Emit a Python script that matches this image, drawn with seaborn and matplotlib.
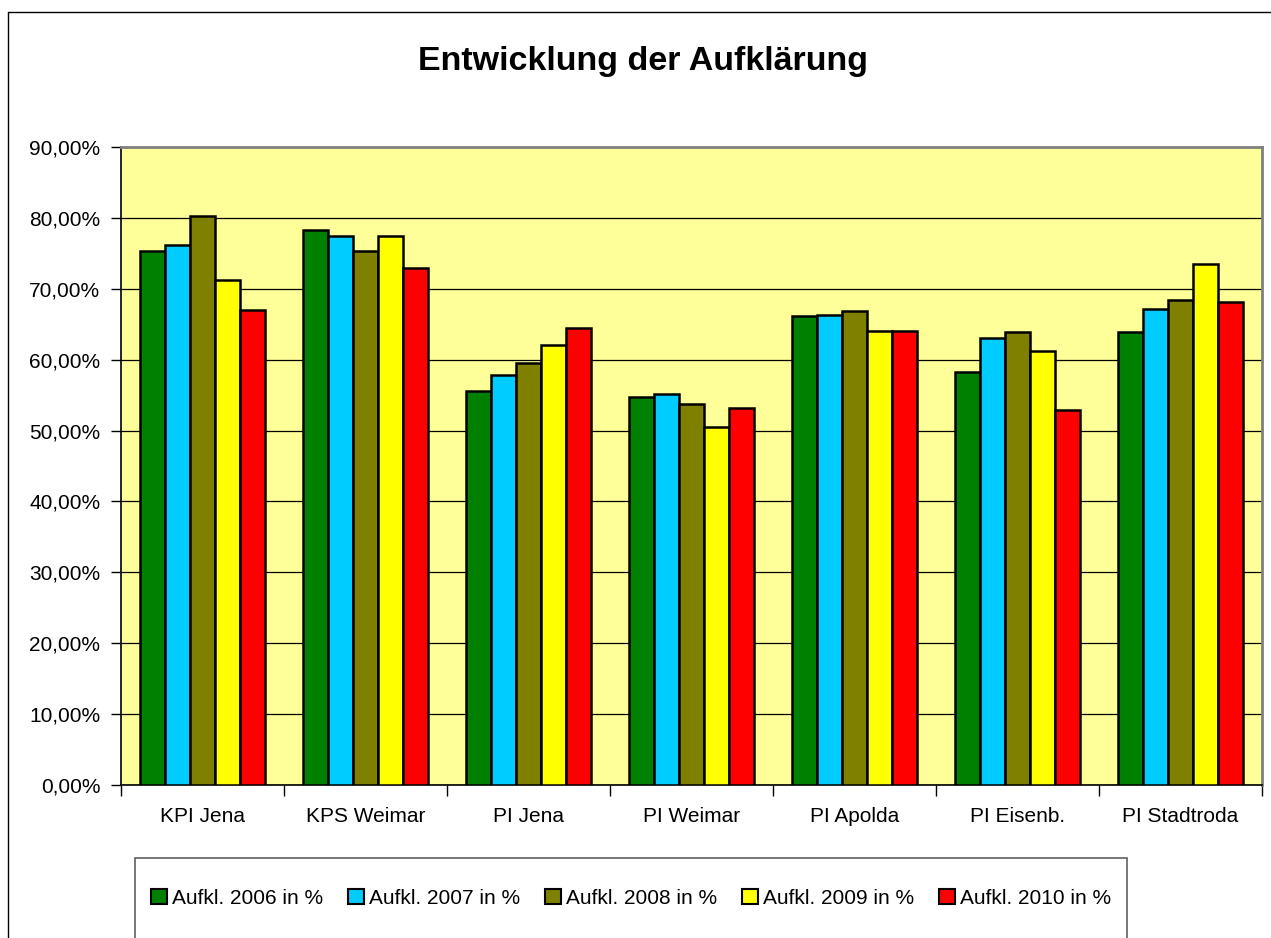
import matplotlib
matplotlib.use("Agg")
import matplotlib.pyplot as plt
import seaborn as sns
import pandas as pd
from matplotlib.patches import Rectangle, Patch
from matplotlib.lines import Line2D
from matplotlib.ticker import FuncFormatter, FixedLocator

categories = ["KPI Jena", "KPS Weimar", "PI Jena", "PI Weimar", "PI Apolda", "PI Eisenb.", "PI Stadtroda"]
series_names = ["Aufkl. 2006 in %", "Aufkl. 2007 in %", "Aufkl. 2008 in %", "Aufkl. 2009 in %", "Aufkl. 2010 in %"]
a2006 = [75.3, 78.3, 55.6, 54.8, 66.1, 58.2, 63.9]
a2007 = [76.2, 77.4, 57.9, 55.1, 66.3, 63.1, 67.1]
a2008 = [80.2, 75.3, 59.6, 53.7, 66.8, 63.9, 68.4]
a2009 = [71.3, 77.4, 62.0, 50.5, 64.1, 61.2, 73.5]
a2010 = [67.0, 73.0, 64.4, 53.2, 64.1, 52.9, 68.1]
colors = ["#008000", "#00CCFF", "#808000", "#FFFF00", "#FF0000"]
title = "Entwicklung der Aufklärung"

rows = []
for name, vals in zip(series_names, [a2006, a2007, a2008, a2009, a2010]):
    for c, v in zip(categories, vals):
        rows.append({"Dienststelle": c, "Serie": name, "Wert": v})
df = pd.DataFrame(rows)

sns.set_style("white")
plt.rcParams["font.family"] = ["Liberation Sans", "DejaVu Sans"]
plt.rcParams["text.color"] = "black"
plt.rcParams["xtick.color"] = "black"
plt.rcParams["ytick.color"] = "black"
plt.rcParams["axes.labelcolor"] = "black"

W, H = 1271, 938
fig = plt.figure(figsize=(W / 100, H / 100), dpi=100)
ax = fig.add_axes([121 / W, 1 - 785 / H, (1262 - 121) / W, (785 - 147) / H])
ax.set_facecolor("#FFFF99")

sns.barplot(data=df, x="Dienststelle", y="Wert", hue="Serie", order=categories,
            hue_order=series_names, palette=colors, width=0.767, dodge=True,
            edgecolor="black", linewidth=1.8, saturation=1, errorbar=None,
            legend=False, ax=ax, zorder=3)

ax.set_xlim(-0.5, len(categories) - 0.5)
ax.set_ylim(0, 90)
ax.set_yticks(range(0, 91, 10))
ax.yaxis.set_major_formatter(FuncFormatter(lambda v, p: f"{v:.2f}".replace(".", ",") + "%"))
ax.grid(axis="y", color="black", linewidth=0.9, zorder=1)
ax.set_axisbelow(True)
ax.set_xlabel("")
ax.set_ylabel("")

ax.tick_params(axis="y", which="major", direction="out", length=7, width=1, color="black",
               labelsize=15, pad=8, left=True, labelcolor="black")
ax.tick_params(axis="x", which="major", length=0, labelsize=15, pad=16, labelcolor="black")
ax.xaxis.set_minor_locator(FixedLocator([i - 0.5 for i in range(len(categories) + 1)]))
ax.tick_params(axis="x", which="minor", direction="out", length=8, width=1, color="black", bottom=True)

for s in ["left", "bottom"]:
    ax.spines[s].set_color("black")
    ax.spines[s].set_linewidth(1.2)
for s in ["top", "right"]:
    ax.spines[s].set_color("#808080")
    ax.spines[s].set_linewidth(2)

fig.text(643 / W, 1 - 70 / H, title, ha="center", va="baseline",
         fontsize=24.5, fontweight="bold", color="black")

# outer chart border (left and top visible)
fig.add_artist(Line2D([8 / W, 8 / W], [0, 1 - 12 / H], transform=fig.transFigure, color="black", linewidth=1))
fig.add_artist(Line2D([8 / W, 1], [1 - 12 / H, 1 - 12 / H], transform=fig.transFigure, color="black", linewidth=1))

# legend box
fig.add_artist(Rectangle((135 / W, -0.05), (1127 - 135) / W, 0.05 + (938 - 858) / H,
                         transform=fig.transFigure, facecolor="white", edgecolor="#606060",
                         linewidth=1.2, zorder=0))
handles = [Patch(facecolor=c, edgecolor="black", linewidth=1.5) for c in colors]
fig.legend(handles, series_names, loc="center", bbox_to_anchor=(631 / W, 1 - 898 / H),
           ncol=5, frameon=False, fontsize=15, handlelength=0.75, handleheight=0.75,
           handletextpad=0.25, columnspacing=1.2, borderaxespad=0, labelcolor="black")

fig.savefig("out.png", dpi=100)
